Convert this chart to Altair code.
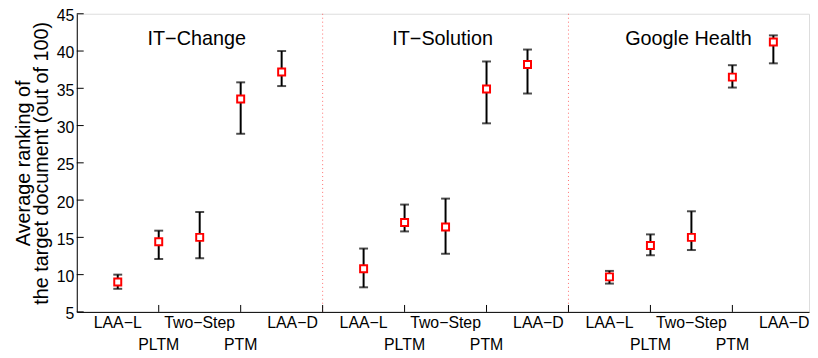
import altair as alt
import pandas as pd

groups = ["IT−Change", "IT−Solution", "Google Health"]
methods = ["LAA−L", "PLTM", "Two−Step", "PTM", "LAA−D"]
positions = [[1, 2, 3, 4, 5], [7, 8, 9, 10, 11], [13, 14, 15, 16, 17]]
group_centers = [3, 9, 15]
separators = [6, 12]
x_ticks = [2, 4, 6, 8, 10, 12, 14, 16]
y_ticks = [5, 10, 15, 20, 25, 30, 35, 40, 45]

means = [
    [9.0, 14.4, 15.0, 33.55, 37.2],
    [10.8, 17.0, 16.4, 34.9, 38.2],
    [9.7, 13.9, 15.0, 36.5, 41.2],
]
upper = [
    [10.0, 15.9, 18.4, 35.8, 40.0],
    [13.5, 19.4, 20.2, 38.6, 40.2],
    [10.5, 15.4, 18.5, 38.1, 42.1],
]
lower = [
    [8.1, 12.1, 12.2, 28.9, 35.3],
    [8.3, 15.8, 12.8, 30.3, 34.3],
    [8.8, 12.6, 13.3, 35.1, 38.35],
]

rows = []
for g in range(len(groups)):
    for m in range(len(methods)):
        rows.append({
            "group": groups[g], "method": methods[m], "x": positions[g][m],
            "mean": means[g][m], "hi": upper[g][m], "lo": lower[g][m],
            "row": m % 2,
        })
df = pd.DataFrame(rows)

W, H = 740, 301.3
FONT = "Liberation Sans"

xs = alt.Scale(domain=[0, 17.87], nice=False, zero=False)
ys = alt.Scale(domain=[5, 45], nice=False, zero=False)

xaxis = alt.Axis(values=x_ticks, labels=False, ticks=False, title=None, grid=False,
                 domainColor="black", domainWidth=1)
yaxis = alt.Axis(values=y_ticks, tickSize=0, grid=False, domainColor="black", domainWidth=1,
                 labelFont=FONT, labelFontSize=16, labelColor="black", labelPadding=3,
                 labelOverlap=False, labelOffset=2,
                 title=["Average ranking of", "the target document (out of 100)"],
                 titleFont=FONT, titleFontSize=20, titleFontWeight="normal",
                 titleColor="black", titlePadding=5, titleLineHeight=18)

X = lambda f: alt.X(f, scale=xs, axis=xaxis)
Y = lambda f: alt.Y(f, scale=ys, axis=yaxis)

base = alt.Chart(df)

sep = alt.Chart(pd.DataFrame({"x": separators})).mark_rule(
    color="#ff3030", strokeDash=[1, 3], strokeWidth=1, opacity=0.7
).encode(x=X("x:Q"))

xtick = alt.Chart(pd.DataFrame({"x": x_ticks})).mark_rule(color="black", strokeWidth=1).encode(
    x=X("x:Q"), y=alt.value(H), y2=alt.value(H - 7))
ytick = alt.Chart(pd.DataFrame({"y": y_ticks})).mark_rule(color="black", strokeWidth=1).encode(
    y=Y("y:Q"), x=alt.value(0), x2=alt.value(7))

bars = base.mark_rule(color="black", strokeWidth=2).encode(
    x=X("x:Q"), y=Y("lo:Q"), y2="hi:Q")
cap_hi = base.mark_tick(color="black", orient="horizontal", size=9, thickness=2).encode(
    x=X("x:Q"), y=Y("hi:Q"))
cap_lo = base.mark_tick(color="black", orient="horizontal", size=9, thickness=2).encode(
    x=X("x:Q"), y=Y("lo:Q"))
pts = base.mark_point(shape="square", filled=True, fill="white", stroke="red",
                      strokeWidth=2, size=50, opacity=1).encode(
    x=X("x:Q"), y=Y("mean:Q"))

lab_up = base.transform_filter("datum.row == 0 && datum.method != 'LAA−D'").mark_text(
    font=FONT, fontSize=16, baseline="middle", align="center", color="black").encode(
    x=X("x:Q"), y=alt.value(313), text="method:N")
lab_d = base.transform_filter("datum.method == 'LAA−D'").mark_text(
    font=FONT, fontSize=16, baseline="middle", align="center", color="black", dx=11).encode(
    x=X("x:Q"), y=alt.value(313), text="method:N")
lab_lo = base.transform_filter("datum.row == 1").mark_text(
    font=FONT, fontSize=16, baseline="middle", align="center", color="black").encode(
    x=X("x:Q"), y=alt.value(335), text="method:N")

titles = alt.Chart(pd.DataFrame({"group": groups, "x": group_centers})).mark_text(
    font=FONT, fontSize=20, baseline="middle", align="center", color="black", dx=-3).encode(
    x=X("x:Q"), y=alt.value(25.5), text="group:N")

chart = alt.layer(
    sep, xtick, ytick, bars, cap_hi, cap_lo, pts, lab_up, lab_d, lab_lo, titles
).properties(
    width=W, height=H,
    autosize=alt.AutoSizeParams(type="none"),
    padding={"left": 69.5, "top": 4, "right": 1, "bottom": 40},
).configure_view(stroke=None).configure(background="white")

chart.save("out.html", embed_options={"renderer": "svg", "actions": False})
